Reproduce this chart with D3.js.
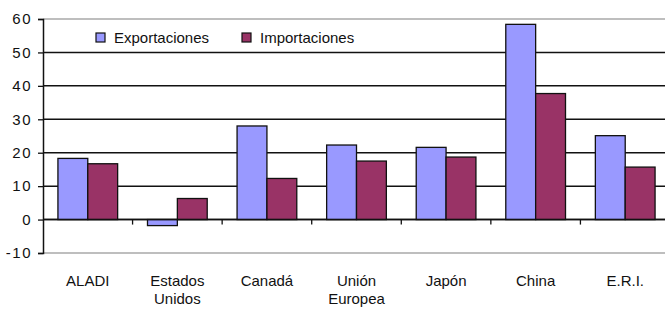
<!DOCTYPE html>
<html>
<head>
<meta charset="utf-8">
<script src="https://cdn.jsdelivr.net/npm/d3@7"></script>
<style>
  body { margin: 0; background: #fff; }
  svg { display: block; font-family: "Liberation Sans", Arial, sans-serif; }
  .tick-label { font-size: 15px; fill: #111; }
</style>
</head>
<body>
<div id="vis"></div>
<script>
// chart data
const CATEGORIES = ["ALADI", "Estados\nUnidos", "Canadá", "Unión\nEuropea", "Japón", "China", "E.R.I."];
const SERIES = ["Exportaciones", "Importaciones"];
const EXPORTS = [18.3, -1.8, 28.0, 22.3, 21.6, 58.4, 25.1];
const IMPORTS = [16.7, 6.3, 12.3, 17.5, 18.7, 37.7, 15.7];
const Y_TICKS = [-10, 0, 10, 20, 30, 40, 50, 60];
const COLORS = ["#9999ff", "#993366"];

const FRAME_WIDTH = 665;
const FRAME_HEIGHT = 310;
const PLOT = {left: 43, right: 670, top: 19, bottom: 253};

const svg = d3.select("#vis")
  .append("svg")
    .attr("width", FRAME_WIDTH)
    .attr("height", FRAME_HEIGHT);

const X0 = d3.scaleBand()
  .domain(CATEGORIES)
  .range([PLOT.left, PLOT.right])
  .paddingInner(0)
  .paddingOuter(0);

const X1 = d3.scaleBand()
  .domain(SERIES)
  .range([0, X0.bandwidth()])
  .paddingInner(0)
  .paddingOuter(0.5);

const Y = d3.scaleLinear()
  .domain([-10, 60])
  .range([PLOT.bottom, PLOT.top]);

// gridlines (outer ones are the grey plot border)
svg.append("g")
  .selectAll("line")
  .data(Y_TICKS)
  .enter()
  .append("line")
    .attr("x1", PLOT.left)
    .attr("x2", PLOT.right)
    .attr("y1", d => Y(d))
    .attr("y2", d => Y(d))
    .attr("stroke", d => (d === 60 || d === -10) ? "#a8a8a8" : "#111")
    .attr("stroke-width", 1.5);

// bars
const rows = CATEGORIES.map((c, i) => ({cat: c, vals: [EXPORTS[i], IMPORTS[i]]}));

svg.append("g")
  .selectAll("g")
  .data(rows)
  .enter()
  .append("g")
    .attr("transform", d => "translate(" + X0(d.cat) + ",0)")
  .selectAll("rect")
  .data(d => d.vals.map((v, j) => ({key: SERIES[j], value: v, j: j})))
  .enter()
  .append("rect")
    .attr("x", d => X1(d.key))
    .attr("width", X1.bandwidth())
    .attr("y", d => Y(Math.max(0, d.value)))
    .attr("height", d => Math.abs(Y(d.value) - Y(0)))
    .attr("fill", d => COLORS[d.j])
    .attr("stroke", "#111")
    .attr("stroke-width", 1.3);

// zero axis line with category ticks
svg.append("line")
  .attr("x1", PLOT.left).attr("x2", PLOT.right)
  .attr("y1", Y(0)).attr("y2", Y(0))
  .attr("stroke", "#111").attr("stroke-width", 1.5);

svg.append("g")
  .selectAll("line")
  .data(CATEGORIES)
  .enter()
  .append("line")
    .attr("x1", d => X0(d) + X0.bandwidth())
    .attr("x2", d => X0(d) + X0.bandwidth())
    .attr("y1", Y(0))
    .attr("y2", Y(0) + 5)
    .attr("stroke", "#111")
    .attr("stroke-width", 1.3);

// y axis (plain hyphen for negatives, as in the original)
const yAxis = svg.append("g")
  .attr("transform", "translate(" + PLOT.left + ",0)")
  .call(d3.axisLeft(Y).tickValues(Y_TICKS).tickFormat(d => String(d))
    .tickSize(5).tickPadding(6));
yAxis.select(".domain").attr("stroke", "#111").attr("stroke-width", 1.5);
yAxis.selectAll(".tick line").attr("stroke", "#111").attr("stroke-width", 1.3);
yAxis.selectAll(".tick text")
  .attr("class", "tick-label")
  .attr("font-size", null)
  .attr("font-family", null)
  .style("letter-spacing", "1.5px");

// category labels
const labels = svg.append("g")
  .selectAll("text")
  .data(CATEGORIES)
  .enter()
  .append("text")
    .attr("class", "tick-label")
    .attr("text-anchor", "middle")
    .attr("x", d => X0(d) + X0.bandwidth() / 2)
    .attr("y", 286);

labels.selectAll("tspan")
  .data(d => d.split("\n"))
  .enter()
  .append("tspan")
    .attr("x", function() { return d3.select(this.parentNode).attr("x"); })
    .attr("dy", (d, i) => i === 0 ? 0 : 18)
    .text(d => d);

// legend
const LEGEND_X = [96, 242];
const legend = svg.append("g")
  .selectAll("g")
  .data(SERIES)
  .enter()
  .append("g")
    .attr("transform", (d, i) => "translate(" + LEGEND_X[i] + ",33)");

legend.append("rect")
  .attr("width", 9).attr("height", 9)
  .attr("fill", (d, i) => COLORS[i])
  .attr("stroke", "#111").attr("stroke-width", 1.2);

legend.append("text")
  .attr("class", "tick-label")
  .attr("x", 18)
  .attr("y", 10)
  .text(d => d);
</script>
</body>
</html>
